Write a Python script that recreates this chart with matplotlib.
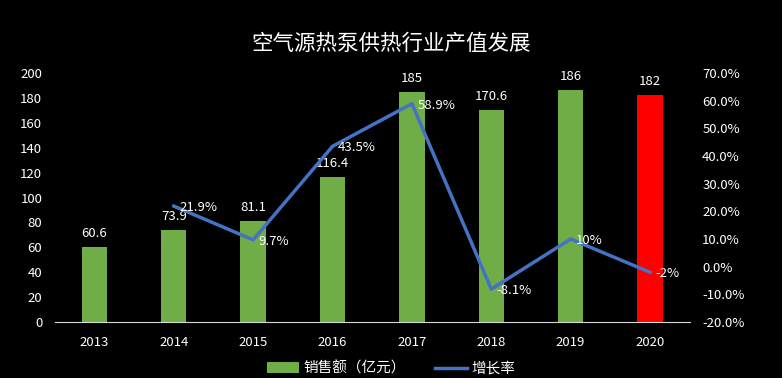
import matplotlib.pyplot as plt
from matplotlib.ticker import FuncFormatter

plt.rcParams['font.family'] = ['Noto Sans CJK SC', 'DejaVu Sans']

years = ["2013", "2014", "2015", "2016", "2017", "2018", "2019", "2020"]
sales = [60.6, 73.9, 81.1, 116.4, 185, 170.6, 186, 182]
sales_labels = ["60.6", "73.9", "81.1", "116.4", "185", "170.6", "186", "182"]
growth_years = years[1:]
growth = [21.9, 9.7, 43.5, 58.9, -8.1, 10, -2]
growth_labels = ["21.9%", "9.7%", "43.5%", "58.9%", "-8.1%", "10%", "-2%"]

fig = plt.figure(figsize=(7.82, 3.78), dpi=100, facecolor='black')
ax = fig.add_axes([0.070, 0.148, 0.812, 0.659], facecolor='black')

x = list(range(len(years)))
colors = ['#70AD47'] * (len(years) - 1) + ['#FF0000']
bars = ax.bar(x, sales, width=0.32, color=colors, label='销售额（亿元）', zorder=2)
for xi, v, t in zip(x, sales, sales_labels):
    ax.annotate(t, (xi, v), xytext=(0, 5), textcoords='offset points',
                ha='center', va='bottom', color='white', fontsize=9.5)

ax.set_xlim(-0.5, len(years) - 0.5)
ax.set_ylim(0, 200)
ax.set_yticks(range(0, 201, 20))
ax.set_xticks(x)
ax.set_xticklabels(years)
for s in ['top', 'left', 'right']:
    ax.spines[s].set_visible(False)
ax.spines['bottom'].set_color('#d9d9d9')
ax.tick_params(axis='both', length=0, colors='white', labelsize=9.5)
ax.tick_params(axis='x', pad=10)
ax.tick_params(axis='y', pad=9)

ax2 = ax.twinx()
gx = [years.index(y) for y in growth_years]
line, = ax2.plot(gx, growth, color='#4472C4', linewidth=2.5, label='增长率', zorder=3)
for xi, v, t in zip(gx, growth, growth_labels):
    ax2.annotate(t, (xi, v), xytext=(4, -1), textcoords='offset points',
                 ha='left', va='center', color='white', fontsize=9.5)
ax2.set_ylim(-20, 70)
ax2.set_yticks(range(-20, 71, 10))
ax2.yaxis.set_major_formatter(FuncFormatter(lambda v, p: f"{v:.1f}%"))
for s in ['top', 'left', 'right', 'bottom']:
    ax2.spines[s].set_visible(False)
ax2.tick_params(axis='y', length=0, colors='white', labelsize=9.5, pad=9)

fig.text(0.5, 0.885, '空气源热泵供热行业产值发展', ha='center', va='center',
         color='white', fontsize=15.5, fontweight='light')

leg = fig.legend([bars, line], ['销售额（亿元）', '增长率'], loc='center',
                 bbox_to_anchor=(0.5, 0.025), ncol=2, frameon=False,
                 fontsize=10.5, labelcolor='white', handlelength=2.2,
                 handletextpad=0.3, columnspacing=2.0)

fig.savefig('out.png', facecolor='black')
